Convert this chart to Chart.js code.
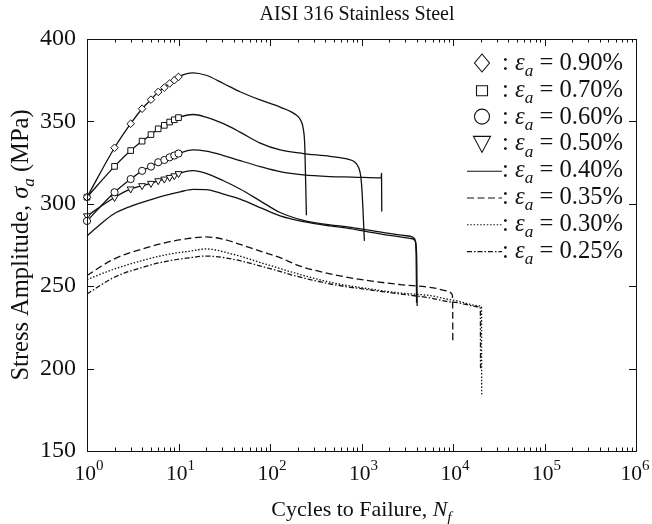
<!DOCTYPE html>
<html>
<head>
<meta charset="utf-8">
<script src="https://cdn.jsdelivr.net/npm/chart.js@4.4.1/dist/chart.umd.min.js"></script>
<style>
html, body { margin: 0; padding: 0; background: #fff; }
#wrap { width: 652px; height: 524px; }
</style>
</head>
<body>
<div id="wrap"><canvas id="chart" width="652" height="524"></canvas></div>
<script>
// strain amplitude labels (legend order)
const strainLabels = ['0.90%', '0.70%', '0.60%', '0.50%', '0.40%', '0.35%', '0.30%', '0.25%'];

// cycles N and stress amplitude (MPa) for each strain amplitude
const n90 = [1, 2, 3, 4, 5, 6, 7, 8, 9, 10, 14.5, 20, 31, 47, 78, 129, 195, 215, 230, 240, 246, 250];
const s90 = [304, 334, 348.6, 357.7, 363.2, 367.9, 370.5, 373, 375, 377, 379.5, 378, 373, 368, 363, 358.7, 353.7, 351, 346, 335, 310, 293];

const n70 = [1, 2, 3, 4, 5, 6, 7, 8, 9, 10, 14.5, 20, 31, 47, 78, 129, 231, 453, 689, 849, 930, 985, 1020, 1050, 1075];
const s70 = [304, 322.7, 332.3, 338, 342, 345.5, 347.6, 349.6, 351, 352.3, 354.2, 352.6, 348.6, 343.5, 336.8, 332.7, 330.5, 328.8, 327.2, 325.2, 322, 316, 305, 290, 277.5];

const n60 = [1, 2, 3, 4, 5, 6, 7, 8, 9, 10, 14.5, 20, 31, 47, 78, 129, 231, 453, 800, 1640, 1655, 1665];
const s60 = [289.6, 307, 315, 320, 322.6, 325.2, 326.6, 328.2, 329.3, 330.5, 332.7, 331.9, 329.3, 326.2, 322.6, 319.5, 317.5, 316.5, 316.2, 315.7, 318.5, 295.3];

const n50 = [1, 2, 3, 4, 5, 6, 7, 8, 9, 10, 14.5, 20, 31, 47, 78, 129, 231, 453, 700, 1700, 3400, 3800, 3950, 4000];
const s50 = [292.7, 303.8, 309, 311, 312.4, 314, 315, 316, 317, 318.3, 320.1, 318.5, 314, 309, 301.8, 294.7, 290, 287.2, 286, 282.6, 280.3, 279, 270, 240];

const n40 = [1, 1.4, 1.94, 3, 4.5, 7, 10.4, 14.5, 20, 31, 47, 78, 129, 231, 453, 700, 1700, 3600, 3900, 4020, 4060];
const s40 = [280.5, 287.6, 293.7, 298.5, 301.8, 305, 307.3, 308.7, 308.6, 305.9, 302.9, 297.7, 292.7, 289.2, 286.6, 285.3, 281.5, 278.8, 277, 265, 238];

const n35 = [1, 1.94, 4.49, 8, 13.4, 20, 31, 47, 78, 129, 213, 492, 1140, 2636, 6093, 8890, 9800, 9930, 9950];
const s35 = [256.5, 266.3, 273.4, 277, 279.1, 279.9, 278.5, 275.4, 271.3, 267.3, 262.2, 257.1, 253.5, 251, 249, 247, 245, 235, 216.5];

const n30 = [1, 1.94, 4.49, 8, 13.4, 20, 39.8, 92, 213, 492, 1140, 2636, 5605, 10070, 20000, 20500, 20560];
const s30 = [254, 260.2, 266.3, 269.5, 271.3, 272.6, 269.3, 263.2, 257.1, 252, 248.6, 245.9, 244.3, 241.5, 238, 237, 184];

const n25 = [1, 1.94, 4.49, 8, 13.4, 20, 39.8, 92, 213, 492, 1140, 2636, 5605, 10000, 19500, 19900, 20000];
const s25 = [245.3, 255.1, 262.2, 265.5, 267.3, 268.3, 266.3, 261.2, 255.5, 251, 248, 245.3, 242.9, 240.3, 237.5, 236, 200];

const decades = [1, 10, 100, 1000, 10000, 100000, 1000000];
const yTicks = [150, 200, 250, 300, 350, 400];

const FONT = '"Liberation Serif", "Times New Roman", serif';

function pts(ns, ss) {
    return ns.map(function(n, i) { return { x: n, y: ss[i] }; });
}

function makeSet(idx, ns, ss, marker, dash) {
    return {
        label: strainLabels[idx],
        data: pts(ns, ss),
        borderColor: '#111',
        borderWidth: 1.3,
        borderDash: dash || [],
        fill: false,
        cubicInterpolationMode: 'monotone',
        clip: false,
        pointStyle: marker ? marker.style : false,
        rotation: marker ? marker.rot : 0,
        pointRadius: function(c) { return marker && c.dataIndex < 10 ? marker.r : 0; },
        pointHoverRadius: 0,
        pointBackgroundColor: '#fff',
        pointBorderColor: '#111',
        pointBorderWidth: 1,
        legendMarker: marker ? marker.style : null,
        legendDash: dash || []
    };
}

const datasets = [
    makeSet(0, n90, s90, { style: 'rectRot', rot: 0, r: 3.8 }),
    makeSet(1, n70, s70, { style: 'rect', rot: 0, r: 4 }),
    makeSet(2, n60, s60, { style: 'circle', rot: 0, r: 3.6 }),
    makeSet(3, n50, s50, { style: 'triangle', rot: 180, r: 4 }),
    makeSet(4, n40, s40, null, []),
    makeSet(5, n35, s35, null, [7, 3.5]),
    makeSet(6, n30, s30, null, [1.5, 1.8]),
    makeSet(7, n25, s25, null, [5, 2, 1.5, 2])
];

function fontFor(seg, size) {
    const fs = (seg.sub || seg.sup) ? size * 0.7 : size;
    return (seg.it ? 'italic ' : '') + fs + 'px ' + FONT;
}

function richWidth(ctx, segs, size) {
    let w = 0;
    segs.forEach(function(s) { ctx.font = fontFor(s, size); w += ctx.measureText(s.t).width; });
    return w;
}

function drawRich(ctx, segs, x, y, size, align) {
    const w = richWidth(ctx, segs, size);
    let cx = align === 'center' ? x - w / 2 : (align === 'right' ? x - w : x);
    ctx.textAlign = 'left';
    ctx.textBaseline = 'alphabetic';
    segs.forEach(function(s) {
        ctx.font = fontFor(s, size);
        const dy = s.sub ? size * 0.25 : (s.sup ? -size * 0.45 : 0);
        ctx.fillText(s.t, cx, y + dy);
        cx += ctx.measureText(s.t).width;
    });
}

function legendSymbol(ctx, kind, x, y) {
    ctx.beginPath();
    if (kind === 'rectRot') {
        ctx.moveTo(x, y - 9); ctx.lineTo(x + 7.5, y); ctx.lineTo(x, y + 9); ctx.lineTo(x - 7.5, y); ctx.closePath();
    } else if (kind === 'rect') {
        ctx.rect(x - 5.5, y - 4, 11, 10);
    } else if (kind === 'circle') {
        ctx.arc(x, y, 7.5, 0, Math.PI * 2);
    } else if (kind === 'triangle') {
        ctx.moveTo(x - 8.5, y - 7); ctx.lineTo(x + 8.5, y - 7); ctx.lineTo(x, y + 9); ctx.closePath();
    }
    ctx.stroke();
}

const framePlugin = {
    id: 'frame',
    afterDraw: function(chart) {
        const ctx = chart.ctx;
        const a = chart.chartArea;
        const xs = chart.scales.x;
        const ys = chart.scales.y;
        ctx.save();
        ctx.strokeStyle = '#111';
        ctx.lineWidth = 1;
        ctx.strokeRect(Math.round(a.left) + 0.5, Math.round(a.top) + 0.5, Math.round(a.right - a.left), Math.round(a.bottom - a.top));
        ctx.beginPath();
        decades.forEach(function(d, i) {
            const px = Math.round(xs.getPixelForValue(d)) + 0.5;
            ctx.moveTo(px, a.bottom); ctx.lineTo(px, a.bottom - 7);
            ctx.moveTo(px, a.top); ctx.lineTo(px, a.top + 7);
            if (i < decades.length - 1) {
                for (let k = 2; k <= 9; k++) {
                    const mx = Math.round(xs.getPixelForValue(d * k)) + 0.5;
                    ctx.moveTo(mx, a.bottom); ctx.lineTo(mx, a.bottom - 3.5);
                    ctx.moveTo(mx, a.top); ctx.lineTo(mx, a.top + 3.5);
                }
            }
        });
        yTicks.forEach(function(v) {
            const py = Math.round(ys.getPixelForValue(v)) + 0.5;
            ctx.moveTo(a.left, py); ctx.lineTo(a.left + 7, py);
            ctx.moveTo(a.right, py); ctx.lineTo(a.right - 7, py);
        });
        ctx.stroke();

        // x tick labels 10^k
        ctx.fillStyle = '#111';
        decades.forEach(function(d, i) {
            const px = Math.min(xs.getPixelForValue(d) + 2, 635);
            drawRich(ctx, [{ t: '10' }, { t: String(i), sup: true }], px, a.bottom + 29, 21.5, 'center');
        });

        // axis titles
        drawRich(ctx, [{ t: 'Cycles to Failure, ' }, { t: 'N', it: true }, { t: 'f', it: true, sub: true }],
            (a.left + a.right) / 2, 516, 22, 'center');
        ctx.save();
        ctx.translate(28, (a.top + a.bottom) / 2);
        ctx.rotate(-Math.PI / 2);
        drawRich(ctx, [{ t: 'Stress Amplitude, ' }, { t: '\u03c3', it: true }, { t: 'a', it: true, sub: true }, { t: ' (MPa)' }],
            0, 0, 24.5, 'center');
        ctx.restore();

        // chart title
        drawRich(ctx, [{ t: 'AISI 316 Stainless Steel' }], 357, 20, 20, 'center');

        // legend
        ctx.lineWidth = 1.1;
        chart.data.datasets.forEach(function(ds, i) {
            const y = 63 + i * 26.8;
            if (ds.legendMarker) {
                legendSymbol(ctx, ds.legendMarker, 482, y);
            } else {
                ctx.save();
                ctx.setLineDash(ds.legendDash);
                ctx.beginPath();
                ctx.moveTo(467, y + 1); ctx.lineTo(502, y + 1);
                ctx.stroke();
                ctx.restore();
            }
            drawRich(ctx, [{ t: ': ' }, { t: '\u03b5', it: true }, { t: 'a', it: true, sub: true }, { t: ' = ' + ds.label }],
                502, y + 7, 24.6, 'left');
        });
        ctx.restore();
    }
};

const ctx = document.getElementById('chart').getContext('2d');
new Chart(ctx, {
    type: 'line',
    data: { datasets: datasets },
    options: {
        responsive: false,
        animation: false,
        layout: { padding: { left: 0, top: 39, right: 16, bottom: 0 } },
        plugins: {
            legend: { display: false },
            title: { display: false },
            tooltip: { enabled: false }
        },
        scales: {
            x: {
                type: 'logarithmic',
                min: 1,
                max: 1000000,
                afterBuildTicks: function(s) { s.ticks = decades.map(function(v) { return { value: v }; }); },
                afterFit: function(s) { s.height = 73; },
                grid: { display: false, drawTicks: false },
                border: { display: false },
                ticks: { display: false }
            },
            y: {
                min: 150,
                max: 400,
                afterBuildTicks: function(s) { s.ticks = yTicks.map(function(v) { return { value: v }; }); },
                afterFit: function(s) { s.width = 87; },
                grid: { display: false, drawTicks: false },
                border: { display: false },
                ticks: { color: '#111', padding: 11, font: { family: FONT, size: 24 } }
            }
        }
    },
    plugins: [framePlugin]
});
</script>
</body>
</html>
